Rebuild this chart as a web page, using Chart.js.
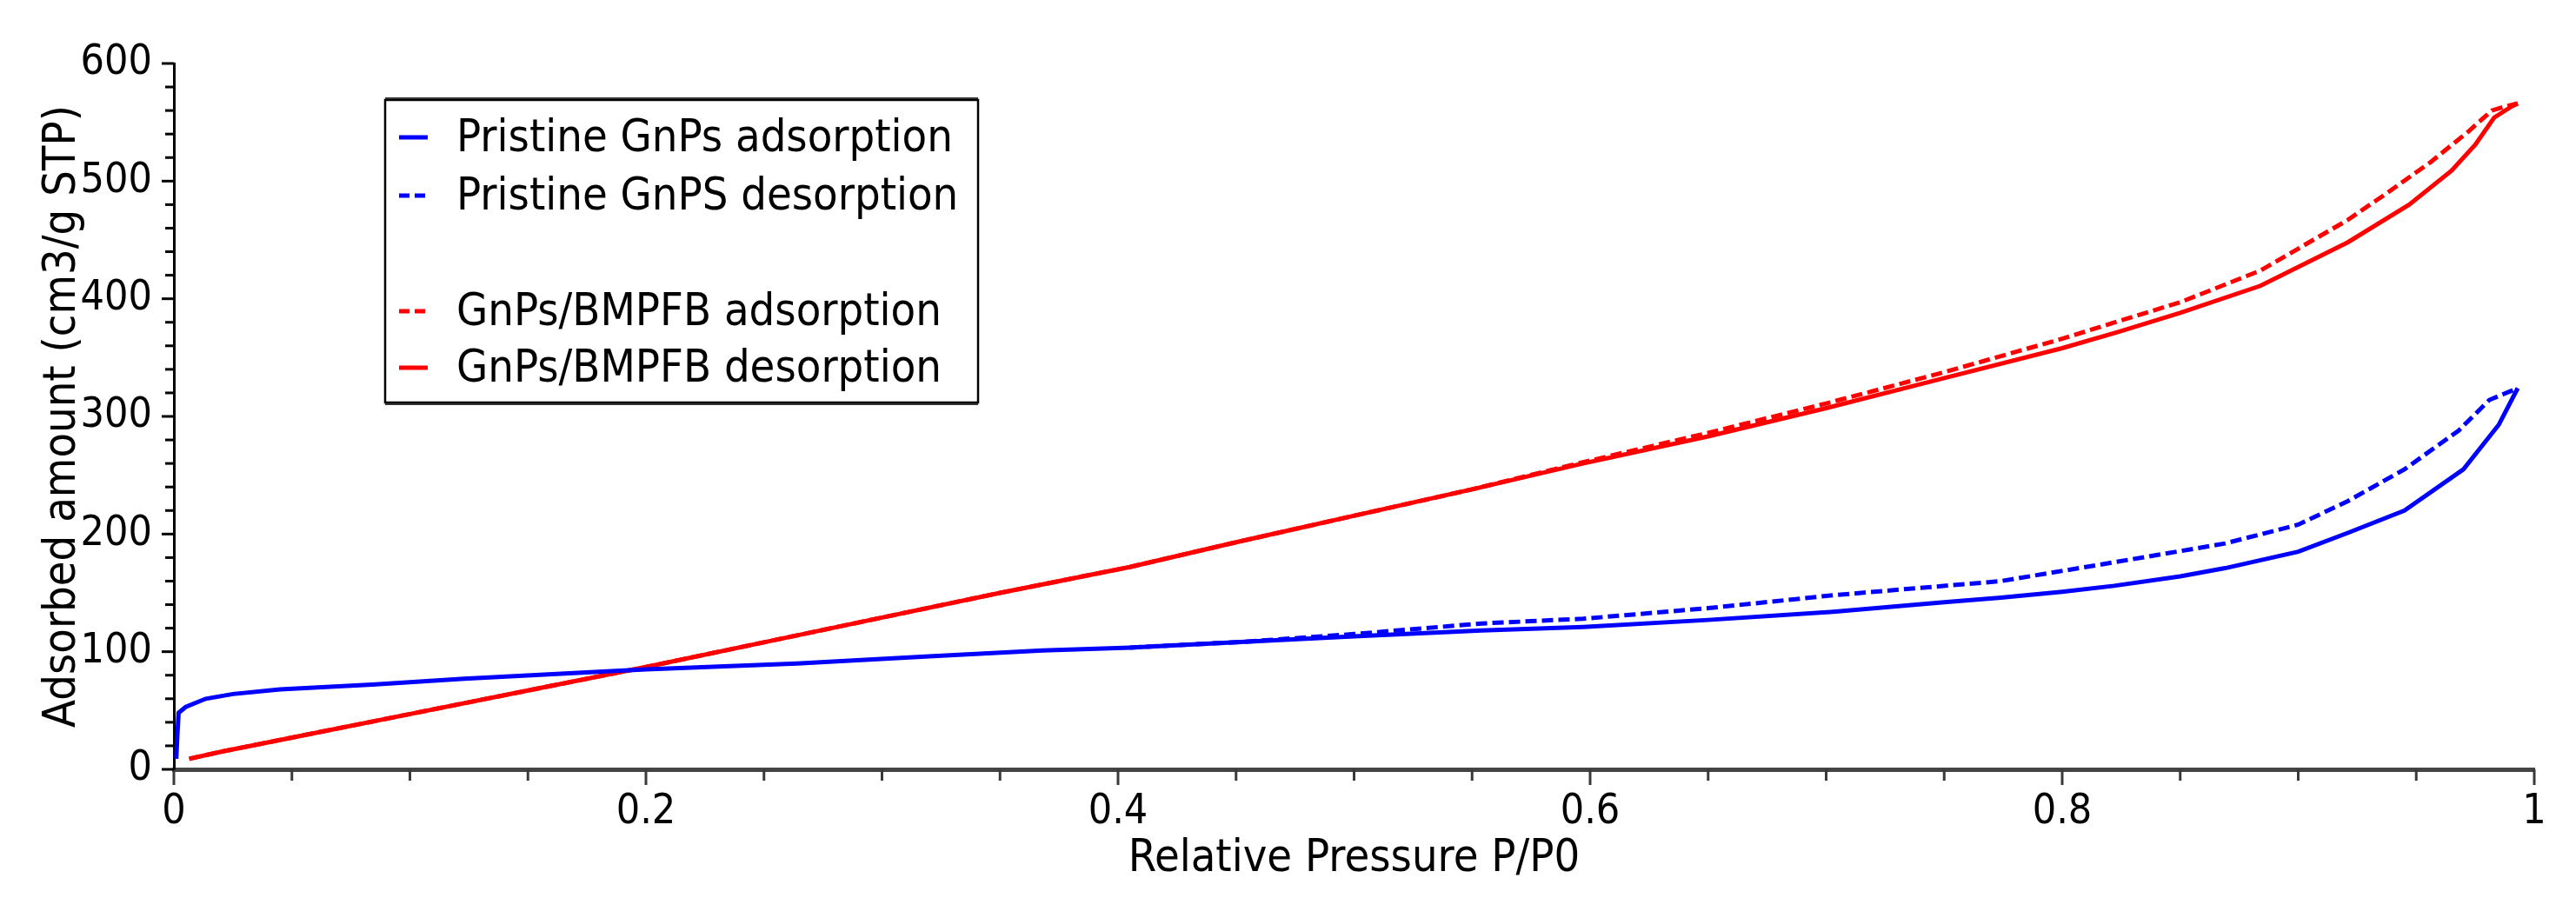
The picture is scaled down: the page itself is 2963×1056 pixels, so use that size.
<!DOCTYPE html>
<html>
<head>
<meta charset="utf-8">
<title>Adsorption isotherms</title>
<script src="https://cdn.jsdelivr.net/npm/chart.js@4.4.1/dist/chart.umd.min.js"></script>
<style>
  html, body { margin: 0; padding: 0; background: #fff; }
  canvas { display: block; }
</style>
</head>
<body>
<canvas id="isoChart" width="2963" height="1056"></canvas>
<script>
// values (P/P0 vs cm3/g STP)
const blueAdsP = [0.001, 0.0015, 0.002, 0.005, 0.0135, 0.025, 0.045, 0.084, 0.123, 0.18, 0.2, 0.264, 0.32, 0.368, 0.405, 0.45, 0.5, 0.554, 0.597, 0.65, 0.703, 0.75, 0.774, 0.8, 0.822, 0.85, 0.869, 0.9, 0.921, 0.945, 0.97, 0.985, 0.993];
const blueAdsV = [9, 30, 48, 53, 60, 64, 68, 72, 77, 83, 85, 90, 96, 101, 103.5, 108, 113, 118, 121, 127, 134, 142, 146, 151, 156, 164, 171, 185, 201, 220, 255, 293, 324];

const blueDesP = [0.405, 0.454, 0.5, 0.554, 0.597, 0.65, 0.703, 0.774, 0.822, 0.869, 0.9, 0.921, 0.945, 0.968, 0.981, 0.987, 0.993];
const blueDesV = [103.5, 108.5, 115, 124, 128, 137, 148, 160, 176, 192, 208, 228, 255, 288, 314, 319, 324];

const redAdsP = [0.0065, 0.02, 0.05, 0.1, 0.15, 0.2, 0.25, 0.3, 0.35, 0.405, 0.45, 0.501, 0.55, 0.597, 0.65, 0.7, 0.749, 0.8, 0.824, 0.85, 0.884, 0.921, 0.937, 0.956, 0.972, 0.982, 0.987, 0.993];
const redAdsV = [9, 15, 27, 47, 67, 87, 108, 129, 150, 172, 193, 216, 238, 261, 286, 311, 337, 366, 381, 397, 424, 467, 489, 516, 542, 560, 563, 566];

const redDesP = [0.0065, 0.02, 0.05, 0.1, 0.15, 0.2, 0.25, 0.3, 0.35, 0.405, 0.45, 0.501, 0.55, 0.597, 0.65, 0.7, 0.749, 0.8, 0.824, 0.85, 0.884, 0.921, 0.947, 0.965, 0.975, 0.983, 0.99, 0.993];
const redDesV = [9, 15, 27, 47, 67, 87, 108, 129, 150, 172, 193, 216, 238, 260, 283, 307, 332, 358, 372, 388, 411, 448, 480, 509, 531, 554, 563, 566];

const seriesLabels = [
    'Pristine GnPs adsorption',
    'Pristine GnPS desorption',
    'GnPs/BMPFB adsorption',
    'GnPs/BMPFB desorption'
];

const xMajorTicks = [0, 0.2, 0.4, 0.6, 0.8, 1];
const yMajorTicks = [0, 100, 200, 300, 400, 500, 600];

const FONT = "'DejaVu Sans Condensed', 'DejaVu Sans', sans-serif";
const BLUE = '#0000ff';
const RED = '#ff0000';
const DASH = [13, 6];

function toPoints(xs, ys) {
    return xs.map((x, i) => ({ x: x, y: ys[i] }));
}

function isMajor(value, majors) {
    return majors.some(m => Math.abs(m - value) < 1e-6);
}

// minor/major tick marks drawn off the library's own scales
const tickMarks = {
    id: 'tickMarks',
    afterDraw(chart) {
        const ctx = chart.ctx;
        const xs = chart.scales.x;
        const ys = chart.scales.y;
        ctx.save();
        ctx.lineCap = 'butt';

        ctx.strokeStyle = '#3a3a3a';
        ctx.lineWidth = 3;
        xs.ticks.forEach((t, i) => {
            const px = xs.getPixelForTick(i);
            const len = isMajor(t.value, xMajorTicks) ? 18 : 13;
            ctx.beginPath();
            ctx.moveTo(px, xs.top);
            ctx.lineTo(px, xs.top + len);
            ctx.stroke();
        });

        ctx.strokeStyle = '#000';
        ctx.lineWidth = 3;
        ys.ticks.forEach((t, i) => {
            const py = ys.getPixelForTick(i);
            const len = isMajor(t.value, yMajorTicks) ? 14 : 10;
            ctx.beginPath();
            ctx.moveTo(ys.right, py);
            ctx.lineTo(ys.right - len, py);
            ctx.stroke();
        });
        ctx.restore();
    }
};

// boxed legend in the upper left, with an empty row between the two samples
const boxLegend = {
    id: 'boxLegend',
    afterDraw(chart) {
        const ctx = chart.ctx;
        const box = { left: 443, top: 115, right: 1125, bottom: 463 };
        const rows = [158, 225, 358, 423];
        ctx.save();
        ctx.fillStyle = '#fff';
        ctx.fillRect(box.left, box.top, box.right - box.left, box.bottom - box.top);
        ctx.strokeStyle = '#000';
        ctx.lineWidth = 2.5;
        ctx.strokeRect(box.left, box.top, box.right - box.left, box.bottom - box.top);
        // slightly heavier top and bottom edges
        ctx.lineWidth = 2;
        ctx.strokeStyle = '#333';
        ctx.beginPath();
        ctx.moveTo(box.left, box.top - 2); ctx.lineTo(box.right, box.top - 2);
        ctx.moveTo(box.left, box.bottom + 2); ctx.lineTo(box.right, box.bottom + 2);
        ctx.stroke();

        ctx.font = '52px ' + FONT;
        ctx.textBaseline = 'middle';
        ctx.textAlign = 'left';
        chart.data.datasets.forEach((ds, i) => {
            const y = rows[i];
            ctx.strokeStyle = ds.borderColor;
            ctx.lineWidth = 5;
            ctx.setLineDash(ds.borderDash && ds.borderDash.length ? [12, 6] : []);
            ctx.beginPath();
            ctx.moveTo(459, y);
            ctx.lineTo(492, y);
            ctx.stroke();
            ctx.setLineDash([]);
            ctx.fillStyle = '#000';
            ctx.fillText(ds.label, 525, y + 2);
        });
        ctx.restore();
    }
};

const ctx = document.getElementById('isoChart').getContext('2d');

new Chart(ctx, {
    type: 'scatter',
    data: {
        datasets: [{
            label: seriesLabels[0],
            data: toPoints(blueAdsP, blueAdsV),
            borderColor: BLUE,
            borderDash: []
        }, {
            label: seriesLabels[1],
            data: toPoints(blueDesP, blueDesV),
            borderColor: BLUE,
            borderDash: DASH
        }, {
            label: seriesLabels[2],
            data: toPoints(redAdsP, redAdsV),
            borderColor: RED,
            borderDash: DASH
        }, {
            label: seriesLabels[3],
            data: toPoints(redDesP, redDesV),
            borderColor: RED,
            borderDash: []
        }]
    },
    options: {
        responsive: false,
        devicePixelRatio: 1,
        animation: false,
        events: [],
        layout: {
            padding: { left: 0, top: 73, right: 48, bottom: 0 }
        },
        datasets: {
            scatter: {
                showLine: true,
                borderWidth: 5,
                tension: 0,
                pointRadius: 0,
                fill: false
            }
        },
        scales: {
            x: {
                type: 'linear',
                min: 0,
                max: 1,
                afterFit: s => { s.height = 171; },
                grid: { display: false, drawTicks: false },
                border: { display: true, color: '#444', width: 5 },
                ticks: {
                    stepSize: 0.05,
                    autoSkip: false,
                    maxRotation: 0,
                    padding: 21,
                    color: '#000',
                    font: { family: FONT, size: 48 },
                    callback: v => isMajor(v, xMajorTicks) ? String(+v.toFixed(1)) : ''
                },
                title: {
                    display: true,
                    text: 'Relative Pressure P/P0',
                    color: '#000',
                    font: { family: FONT, size: 52 },
                    padding: { top: 0, bottom: 36 }
                }
            },
            y: {
                type: 'linear',
                min: 0,
                max: 600,
                afterFit: s => { s.width = 200; },
                grid: { display: false, drawTicks: false },
                border: { display: true, color: '#000', width: 3 },
                ticks: {
                    stepSize: 20,
                    autoSkip: false,
                    padding: 25,
                    color: '#000',
                    font: { family: FONT, size: 48 },
                    callback: v => isMajor(v, yMajorTicks) ? String(v) : ''
                },
                title: {
                    display: true,
                    text: 'Adsorbed amount (cm3/g STP)',
                    color: '#000',
                    font: { family: FONT, size: 52 },
                    padding: { top: 41, bottom: 0 }
                }
            }
        },
        plugins: {
            legend: { display: false },
            tooltip: { enabled: false }
        }
    },
    plugins: [tickMarks, boxLegend]
});
</script>
</body>
</html>
